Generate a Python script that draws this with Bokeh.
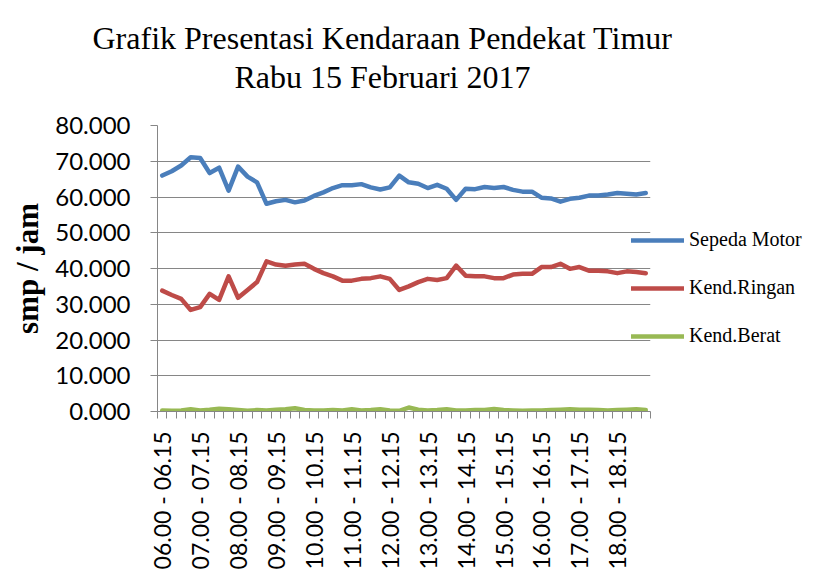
from math import pi
from bokeh.plotting import figure
from bokeh.models import ColumnDataSource, FixedTicker, Legend, LegendItem, Title
from bokeh.embed import file_html
from bokeh.resources import INLINE

categories = [
    "06.00 - 06.15", "06.15 - 06.30", "06.30 - 06.45", "06.45 - 07.00",
    "07.00 - 07.15", "07.15 - 07.30", "07.30 - 07.45", "07.45 - 08.00",
    "08.00 - 08.15", "08.15 - 08.30", "08.30 - 08.45", "08.45 - 09.00",
    "09.00 - 09.15", "09.15 - 09.30", "09.30 - 09.45", "09.45 - 10.00",
    "10.00 - 10.15", "10.15 - 10.30", "10.30 - 10.45", "10.45 - 11.00",
    "11.00 - 11.15", "11.15 - 11.30", "11.30 - 11.45", "11.45 - 12.00",
    "12.00 - 12.15", "12.15 - 12.30", "12.30 - 12.45", "12.45 - 13.00",
    "13.00 - 13.15", "13.15 - 13.30", "13.30 - 13.45", "13.45 - 14.00",
    "14.00 - 14.15", "14.15 - 14.30", "14.30 - 14.45", "14.45 - 15.00",
    "15.00 - 15.15", "15.15 - 15.30", "15.30 - 15.45", "15.45 - 16.00",
    "16.00 - 16.15", "16.15 - 16.30", "16.30 - 16.45", "16.45 - 17.00",
    "17.00 - 17.15", "17.15 - 17.30", "17.30 - 17.45", "17.45 - 18.00",
    "18.00 - 18.15", "18.15 - 18.30", "18.30 - 18.45", "18.45 - 19.00",
]

sepeda_motor = [66.0, 67.2, 68.8, 71.1, 70.9, 66.7, 68.2, 61.8, 68.5, 65.7,
                64.1, 58.1, 58.8, 59.2, 58.5, 59.0, 60.3, 61.3, 62.5, 63.3,
                63.3, 63.6, 62.7, 62.1, 62.7, 66.0, 64.1, 63.7, 62.5, 63.4,
                62.3, 59.2, 62.3, 62.2, 62.8, 62.5, 62.8, 62.0, 61.5, 61.5,
                59.8, 59.6, 58.7, 59.5, 59.8, 60.4, 60.4, 60.7, 61.1, 60.9,
                60.7, 61.1]

kend_ringan = [33.8, 32.6, 31.5, 28.4, 29.2, 32.9, 31.2, 37.8, 31.8, 34.0,
               36.2, 42.0, 41.1, 40.8, 41.1, 41.3, 39.9, 38.7, 37.8, 36.6,
               36.6, 37.1, 37.3, 37.8, 37.1, 34.0, 35.0, 36.2, 37.1, 36.8,
               37.3, 40.8, 38.0, 37.8, 37.8, 37.3, 37.3, 38.3, 38.5, 38.5,
               40.4, 40.4, 41.3, 39.9, 40.4, 39.4, 39.4, 39.2, 38.7, 39.2,
               39.0, 38.7]

kend_berat = [0.3, 0.2, 0.3, 0.6, 0.3, 0.5, 0.8, 0.6, 0.4, 0.2,
              0.4, 0.3, 0.5, 0.6, 0.9, 0.4, 0.3, 0.3, 0.4, 0.3,
              0.6, 0.3, 0.4, 0.6, 0.3, 0.2, 1.1, 0.5, 0.3, 0.4,
              0.6, 0.3, 0.3, 0.4, 0.4, 0.7, 0.4, 0.3, 0.2, 0.3,
              0.3, 0.4, 0.5, 0.6, 0.5, 0.5, 0.4, 0.3, 0.4, 0.5,
              0.6, 0.4]

y_ticks = [0, 10, 20, 30, 40, 50, 60, 70, 80]
y_tick_labels = ["0.000", "10.000", "20.000", "30.000", "40.000",
                 "50.000", "60.000", "70.000", "80.000"]
label_every = 4

title_lines = ["Grafik Presentasi Kendaraan Pendekat Timur", "Rabu 15 Februari 2017"]
y_title = "smp / jam"
series_names = ["Sepeda Motor", "Kend.Ringan", "Kend.Berat"]
series_colors = ["#4A7EBB", "#BE4B48", "#98B954"]

n = len(categories)
xs = [i + 0.5 for i in range(n)]

source = ColumnDataSource(dict(x=xs, motor=sepeda_motor, ringan=kend_ringan, berat=kend_berat))

p = figure(frame_width=493, frame_height=286, x_range=(0, n), y_range=(y_ticks[0], y_ticks[-1]),
           output_backend="svg", toolbar_location=None, title_location=None,
           min_border_left=157, min_border_right=150, min_border_top=125, min_border_bottom=168)
p.outline_line_color = None
p.background_fill_color = "white"
p.border_fill_color = "white"

grey = "#868686"

# x axis
xa = p.xaxis[0]
label_pos = [xs[i] for i in range(0, n, label_every)]
xa.ticker = FixedTicker(ticks=label_pos, minor_ticks=list(range(n + 1)))
xa.major_label_overrides = {xs[i]: categories[i] for i in range(0, n, label_every)}
xa.major_label_orientation = pi / 2
xa.major_tick_out = 0
xa.major_tick_in = 0
xa.minor_tick_out = 7
xa.minor_tick_in = 0
xa.minor_tick_line_color = grey
xa.axis_line_color = grey
xa.major_label_standoff = 13
xa.major_label_text_font = "Lato"
xa.major_label_text_font_size = "23px"
xa.major_label_text_color = "black"

# y axis
ya = p.yaxis[0]
ya.ticker = FixedTicker(ticks=y_ticks)
ya.major_label_overrides = {t: l for t, l in zip(y_ticks, y_tick_labels)}
ya.major_tick_out = 7
ya.major_tick_in = 0
ya.major_tick_line_color = grey
ya.minor_tick_line_color = None
ya.axis_line_color = grey
ya.major_label_standoff = 20
ya.major_label_text_font = "Lato"
ya.major_label_text_font_size = "24px"
ya.major_label_text_color = "black"
ya.axis_label = y_title
ya.axis_label_text_font = "Liberation Serif"
ya.axis_label_text_font_style = "bold"
ya.axis_label_text_font_size = "31px"
ya.axis_label_text_color = "black"
ya.axis_label_standoff = 7

p.xgrid.visible = False
p.ygrid.grid_line_color = grey
p.ygrid.grid_line_width = 1

renderers = []
for col, color in zip(["motor", "ringan", "berat"], series_colors):
    r = p.line("x", col, source=source, line_color=color, line_width=4.5,
               line_join="round", line_cap="round")
    renderers.append(r)

legend = Legend(items=[LegendItem(label=nm, renderers=[r]) for nm, r in zip(series_names, renderers)],
                location=(-19, 64), orientation="vertical",
                glyph_width=53, glyph_height=20, label_height=20, spacing=25,
                padding=0, margin=0, label_standoff=5,
                border_line_color=None, background_fill_alpha=0,
                label_text_font="Liberation Serif", label_text_font_size="20px",
                label_text_color="black")
p.add_layout(legend, "right")


def make_title(text, offset, standoff, pad_bottom):
    kw = dict(text=text, align="left", offset=offset, standoff=standoff,
              text_font="Liberation Serif", text_font_size="32px",
              text_font_style="normal", text_color="black")
    t = Title(**kw)
    if pad_bottom:
        try:
            t.padding = dict(left=0, right=0, top=0, bottom=pad_bottom)
        except Exception:
            try:
                t.padding = (0, 0, 0, pad_bottom)
            except Exception:
                t.standoff = standoff + pad_bottom
    return t


# titles: nearest to frame first
p.add_layout(make_title(title_lines[1], 77, 2, 30), "above")
p.add_layout(make_title(title_lines[0], -65, 0, 0), "above")

open("out.html", "w").write(file_html(p, INLINE))
